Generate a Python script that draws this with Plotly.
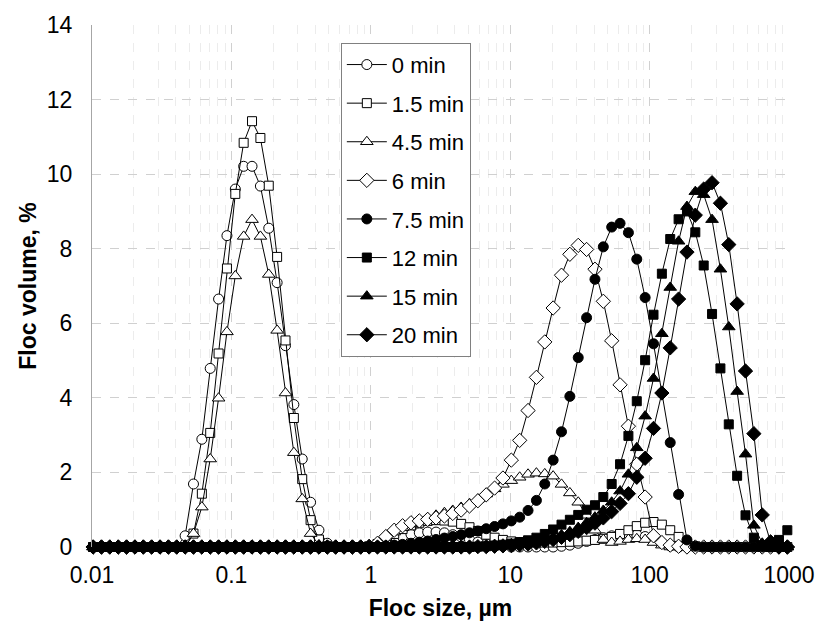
import plotly.graph_objects as go

# Size classes (um)
sizes = [
    0.010186, 0.011695, 0.013428, 0.015417, 0.017701, 0.020324, 0.023335, 0.026792, 0.030761, 0.035318,
    0.040551, 0.046559, 0.053456, 0.061376, 0.070469, 0.08091, 0.092897, 0.10666, 0.12246, 0.1406,
    0.16144, 0.18535, 0.21281, 0.24434, 0.28054, 0.32211, 0.36983, 0.42462, 0.48753, 0.55976,
    0.64269, 0.7379, 0.84723, 0.97275, 1.1169, 1.2823, 1.4723, 1.6904, 1.9409, 2.2284,
    2.5586, 2.9376, 3.3729, 3.8726, 4.4463, 5.105, 5.8614, 6.7298, 7.7268, 8.8716,
    10.186, 11.695, 13.428, 15.417, 17.701, 20.324, 23.335, 26.792, 30.761, 35.318,
    40.551, 46.559, 53.456, 61.376, 70.469, 80.91, 92.897, 106.66, 122.46, 140.6,
    161.44, 185.35, 212.81, 244.34, 280.54, 322.11, 369.83, 424.62, 487.53, 559.76,
    642.69, 737.9, 847.23, 972.75,
]

vol_0min = [
    0, 0, 0, 0, 0, 0, 0, 0, 0, 0,
    0, 0.3, 1.69, 2.89, 4.79, 6.65, 8.35, 9.6, 10.21, 10.21,
    9.68, 8.55, 7.09, 5.4, 3.82, 2.36, 1.2, 0.45, 0.1, 0,
    0, 0, 0, 0, 0.05, 0.12, 0.2, 0.28, 0.34, 0.38,
    0.4, 0.4, 0.38, 0.33, 0.27, 0.2, 0.13, 0.08, 0.04, 0.02,
    0, 0, 0, 0, 0, 0, 0.02, 0.05, 0.1, 0.15,
    0.2, 0.25, 0.3, 0.33, 0.35, 0.33, 0.28, 0.2, 0.1, 0.03,
    0, 0, 0, 0, 0, 0, 0, 0, 0, 0,
    0, 0, 0, 0,
]
vol_1_5min = [
    0, 0, 0, 0, 0, 0, 0, 0, 0, 0,
    0, 0, 0.36, 1.43, 3.06, 5.19, 7.47, 9.47, 10.84, 11.42,
    10.97, 9.69, 7.78, 5.54, 3.46, 1.82, 0.72, 0.2, 0.03, 0,
    0, 0, 0, 0.02, 0.08, 0.2, 0.35, 0.48, 0.58, 0.65,
    0.7, 0.72, 0.71, 0.68, 0.62, 0.53, 0.43, 0.33, 0.25, 0.19,
    0.15, 0.13, 0.12, 0.12, 0.12, 0.12, 0.13, 0.14, 0.15, 0.17,
    0.19, 0.22, 0.27, 0.35, 0.45, 0.56, 0.65, 0.67, 0.6, 0.45,
    0.27, 0.1, 0.02, 0, 0, 0, 0, 0, 0, 0,
    0, 0, 0, 0,
]
vol_4_5min = [
    0, 0, 0, 0, 0, 0, 0, 0, 0, 0,
    0, 0, 0.36, 1.07, 2.36, 3.99, 5.77, 7.27, 8.33, 8.78,
    8.33, 7.31, 5.81, 4.13, 2.53, 1.29, 0.36, 0.05, 0, 0,
    0, 0, 0, 0.03, 0.1, 0.25, 0.4, 0.52, 0.62, 0.7,
    0.78, 0.85, 0.92, 0.98, 1.06, 1.16, 1.28, 1.42, 1.56, 1.68,
    1.78, 1.87, 1.95, 1.98, 1.96, 1.9, 1.68, 1.45, 1.2, 0.85,
    0.45, 0.2, 0.12, 0.15, 0.2, 0.22, 0.2, 0.12, 0.05, 0,
    0, 0, 0, 0, 0, 0, 0, 0, 0, 0,
    0, 0, 0, 0,
]
vol_6min = [
    0, 0, 0, 0, 0, 0, 0, 0, 0, 0,
    0, 0, 0, 0, 0, 0, 0, 0, 0, 0,
    0, 0, 0, 0, 0, 0, 0, 0, 0, 0,
    0, 0, 0, 0.02, 0.1, 0.28, 0.45, 0.57, 0.65, 0.7,
    0.74, 0.78, 0.83, 0.9, 0.99, 1.1, 1.24, 1.4, 1.58, 1.85,
    2.33, 2.86, 3.66, 4.55, 5.5, 6.41, 7.29, 7.85, 8.09, 7.98,
    7.45, 6.59, 5.53, 4.35, 3.24, 2.22, 1.34, 0.3, 0.12, 0.05,
    0.02, 0, 0, 0, 0, 0, 0, 0, 0, 0,
    0, 0, 0, 0,
]
vol_7_5min = [
    0, 0, 0, 0, 0, 0, 0, 0, 0, 0,
    0, 0, 0, 0, 0, 0, 0, 0, 0, 0,
    0, 0, 0, 0, 0, 0, 0, 0, 0, 0,
    0, 0, 0, 0, 0.01, 0.03, 0.05, 0.07, 0.1, 0.13,
    0.16, 0.2, 0.24, 0.28, 0.33, 0.38, 0.43, 0.49, 0.55, 0.62,
    0.7, 0.8, 0.98, 1.25, 1.69, 2.33, 3.09, 4.04, 5.08, 6.15,
    7.18, 8.05, 8.58, 8.68, 8.43, 7.72, 6.69, 5.45, 4.13, 2.8,
    1.41, 0.19, 0.02, 0, 0, 0, 0, 0, 0, 0,
    0, 0, 0, 0,
]
vol_12min = [
    0, 0, 0, 0, 0, 0, 0, 0, 0, 0,
    0, 0, 0, 0, 0, 0, 0, 0, 0, 0,
    0, 0, 0, 0, 0, 0, 0, 0, 0, 0,
    0, 0, 0, 0, 0, 0, 0, 0, 0, 0,
    0, 0, 0, 0, 0, 0, 0.01, 0.02, 0.04, 0.06,
    0.09, 0.13, 0.18, 0.25, 0.35, 0.47, 0.6, 0.73, 0.86, 1.0,
    1.12, 1.34, 1.69, 2.22, 2.98, 3.91, 5.01, 6.23, 7.33, 8.26,
    8.79, 9.0, 8.44, 7.55, 6.25, 4.79, 3.29, 1.91, 0.85, 0.25,
    0.05, 0, 0.19, 0.45,
]
vol_15min = [
    0, 0, 0, 0, 0, 0, 0, 0, 0, 0,
    0, 0, 0, 0, 0, 0, 0, 0, 0, 0,
    0, 0, 0, 0, 0, 0, 0, 0, 0, 0,
    0, 0, 0, 0, 0, 0, 0, 0, 0, 0,
    0, 0, 0, 0, 0, 0, 0.01, 0.01, 0.02, 0.03,
    0.05, 0.07, 0.1, 0.14, 0.19, 0.25, 0.32, 0.41, 0.52, 0.65,
    0.8, 0.98, 1.2, 1.5, 1.95, 2.66, 3.51, 4.52, 5.72, 6.96,
    8.2, 9.13, 9.53, 9.45, 8.78, 7.45, 5.9, 4.17, 2.49, 0.58,
    0.1, 0.02, 0, 0,
]
vol_20min = [
    0, 0, 0, 0, 0, 0, 0, 0, 0, 0,
    0, 0, 0, 0, 0, 0, 0, 0, 0, 0,
    0, 0, 0, 0, 0, 0, 0, 0, 0, 0,
    0, 0, 0, 0, 0, 0, 0, 0, 0, 0,
    0, 0, 0, 0, 0, 0, 0.01, 0.01, 0.02, 0.03,
    0.04, 0.06, 0.08, 0.11, 0.15, 0.2, 0.26, 0.33, 0.42, 0.52,
    0.64, 0.78, 0.95, 1.17, 1.43, 1.87, 2.38, 3.18, 4.13, 5.34,
    6.65, 7.91, 8.9, 9.6, 9.77, 9.22, 8.11, 6.52, 4.72, 3.04,
    0.86, 0.14, 0, 0,
]

series_names = ["0 min", "1.5 min", "4.5 min", "6 min", "7.5 min", "12 min", "15 min", "20 min"]
series_values = [vol_0min, vol_1_5min, vol_4_5min, vol_6min, vol_7_5min, vol_12min, vol_15min, vol_20min]

x_tick_vals = [0.01, 0.1, 1, 10, 100, 1000]
x_tick_text = ["0.01", "0.1", "1", "10", "100", "1000"]
y_tick_vals = [0, 2, 4, 6, 8, 10, 12, 14]

styles = [
    ("circle", "white", 10),
    ("square", "white", 9),
    ("triangle-up", "white", 11),
    ("diamond", "white", 11),
    ("circle", "black", 10),
    ("square", "black", 9),
    ("triangle-up", "black", 11),
    ("diamond", "black", 11),
]

fig = go.Figure()
for name, vals, (sym, fill, sz) in zip(series_names, series_values, styles):
    assert len(vals) == len(sizes)
    fig.add_trace(go.Scatter(
        x=sizes, y=vals, name=name, mode="lines+markers",
        line=dict(color="black", width=1),
        marker=dict(symbol=sym, color=fill, size=sz, line=dict(color="black", width=1)),
        cliponaxis=False, legendgroup=name,
    ))

minor_vals = [m * 10.0 ** e for e in range(-2, 3) for m in range(2, 10)]
FONT = "Liberation Sans, Arial, sans-serif"
TICK_SIZE = 23

fig.update_layout(
    width=827, height=631,
    margin=dict(l=92, r=35, t=20, b=84),
    paper_bgcolor="white", plot_bgcolor="white",
    font=dict(family=FONT, color="black", size=TICK_SIZE),
    showlegend=True,
    legend=dict(
        x=0.357, y=0.966, xanchor="left", yanchor="top",
        bgcolor="white", bordercolor="#808080", borderwidth=1,
        font=dict(family=FONT, size=22, color="black"),
        tracegroupgap=7, itemwidth=40,
    ),
    xaxis=dict(
        type="log", range=[-2, 3],
        tickmode="array", tickvals=x_tick_vals, ticktext=x_tick_text,
        showgrid=True, gridcolor="#d0d0d0", griddash="dash", gridwidth=1,
        minor=dict(tickmode="array", tickvals=minor_vals, showgrid=True,
                   gridcolor="#ececec", gridwidth=1, ticks=""),
        ticks="", showline=False, zeroline=False, ticklabelstandoff=12,
        tickfont=dict(family=FONT, size=TICK_SIZE, color="black"),
        title=dict(text="Floc size, µm", font=dict(family=FONT, size=23, color="black", weight="bold"), standoff=12),
    ),
    yaxis=dict(
        range=[0, 14], tickmode="array", tickvals=y_tick_vals,
        showgrid=True, gridcolor="#d0d0d0", griddash="dash", gridwidth=1,
        ticks="", showline=True, linecolor="#a6a6a6", linewidth=1, zeroline=False,
        ticklabelstandoff=14,
        tickfont=dict(family=FONT, size=TICK_SIZE, color="black"),
        title=dict(text="Floc volume, %", font=dict(family=FONT, size=23, color="black", weight="bold"), standoff=3),
    ),
)

fig.write_html("out.html")
